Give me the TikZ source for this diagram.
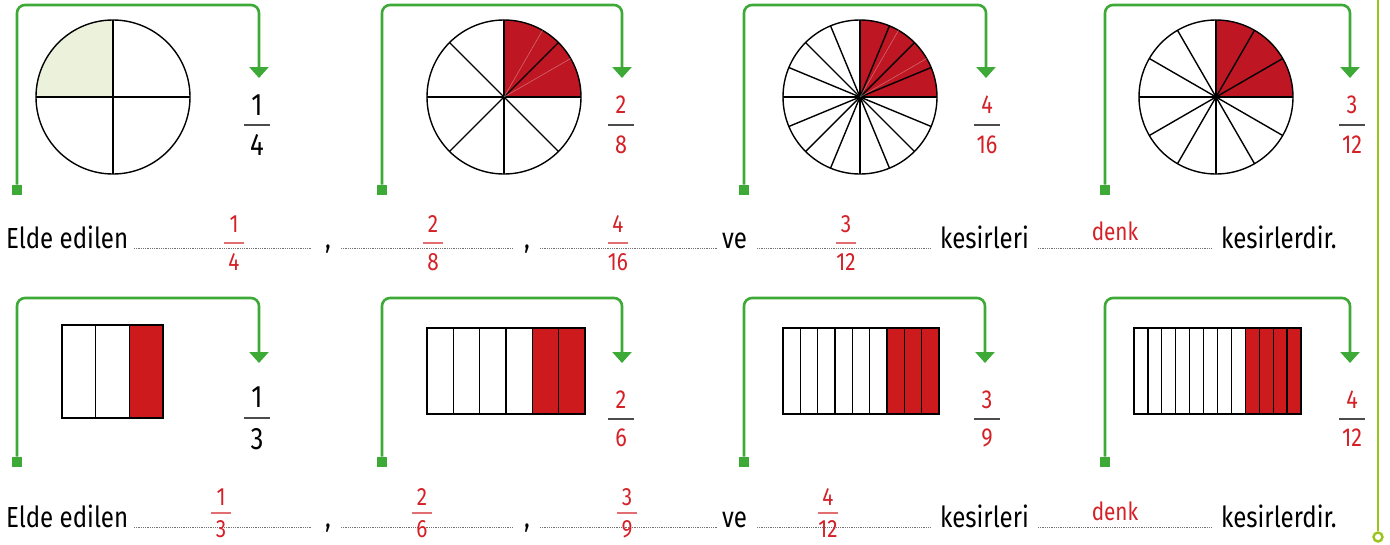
\documentclass[tikz,border=0pt]{standalone}
\usepackage{fontspec}
\setmainfont{Fira Sans}[FakeStretch=0.83]
\usetikzlibrary{arrows.meta}

\definecolor{okyesil}{HTML}{3DA936}
\definecolor{kenaryesil}{HTML}{9AC31C}
\definecolor{koyukirmizi}{HTML}{BE1622}
\definecolor{kirmizi}{HTML}{CD1A1D}
\definecolor{acikyesil}{HTML}{ECF1DB}
\definecolor{yazikirmizi}{HTML}{D42027}

% yesil ok: ad, sol x, sag x, ust y, kare y, uc y
\newcommand{\cerceve}[6]{%
  \node[kare] (#1k) at (#2,#5) {};
  \coordinate (#1u) at (#3,#6);
  \draw[okcizgi] (#1k.north) |- (#2+100,#4) -| (#1u);
}
% daire: ad, x, y, parca, baslangic, bitis, renk
\newcommand{\pasta}[7]{%
  \coordinate (#1) at (#2,#3);
  \fill[#7] (#1) -- ++(#5:77) arc[start angle=#5,end angle=#6,radius=77] -- cycle;
  \foreach \a in {1,...,#4} \draw[pastaciz] (#1) -- ++({360/#4*\a}:77);
  \draw[pastaciz] (#1) circle[radius=77];
}
% serit: ad, x1, ust y, x2, alt y, parca, kirmizi parca
\newcommand{\serit}[7]{%
  \foreach \i in {1,...,#6}{
    \pgfmathtruncatemacro\kir{\i>#6-#7}
    \ifnum\kir=1 \def\renk{kirmizi}\else\def\renk{white}\fi
    \filldraw[seritciz,fill=\renk] ({#2+(\i-1)*(#4-#2)/#6},#3) rectangle ({#2+\i*(#4-#2)/#6},#5);
  }
  \coordinate (#1) at ({(#2+#4)/2},{(#3+#5)/2});
}
% kesir: ad, x, cizgi y, pay, payda, stil, aralik, cizgi stili
\newcommand{\kesir}[8]{%
  \node[#6] (#1p) at (#2,#3+#7) {#4};
  \node[#6] (#1q) at (#2,#3-#7) {#5};
  \draw[#8] (#2-13,#3) -- (#2+13,#3);
}

\begin{document}
\begin{tikzpicture}[x=1pt,y=1pt,
    kare/.style={fill=okyesil,inner sep=0pt,minimum size=10.5pt},
    okcizgi/.style={okyesil,line width=2.6pt,rounded corners=8pt,-{Triangle[width=19pt,length=11pt]}},
    pastaciz/.style={black,line width=1.4pt},
    soluk/.style={white,opacity=0.35,line width=0.6pt},
    seritciz/.style={black,line width=1.3pt},
    siyahsayi/.style={font=\fontsize{31}{31}\selectfont,inner sep=0pt},
    kirmizisayi/.style={font=\fontsize{26}{26}\selectfont,text=yazikirmizi,inner sep=0pt},
    kesirciz/.style={black!70,line width=1.3pt},
    cevapciz/.style={yazikirmizi!65,line width=1.3pt,shorten <=3pt,shorten >=3pt},
    yazi/.style={font=\fontsize{29}{29}\selectfont,inner sep=0pt},
    cevap/.style={font=\fontsize{25}{25}\selectfont,text=yazikirmizi,inner sep=0pt},
    noktali/.style={black!55,line width=0.9pt,dash pattern=on 0.8pt off 1pt}]
\useasboundingbox (0,0) rectangle (1390,-544);
%
% ============ UST SIRA: daireler ============
\cerceve{a1}{17}{259}{-5}{-190}{-78}
\cerceve{a2}{382}{622}{-5}{-190}{-78}
\cerceve{a3}{744}{986}{-5}{-190}{-78}
\cerceve{a4}{1105}{1350}{-5}{-190}{-78}
% daire 1/4
\pasta{d1}{113}{-97}{4}{90}{180}{acikyesil}
% daire 2/8
\pasta{d2}{504}{-97}{8}{0}{90}{koyukirmizi}
\draw[soluk] (d2) -- ++(30:77) (d2) -- ++(60:77);
% daire 4/16
\pasta{d3}{860}{-97}{16}{0}{90}{koyukirmizi}
\draw[soluk] (d3) -- ++(30:77) (d3) -- ++(60:77);
% daire 3/12
\pasta{d4}{1216}{-97}{12}{0}{90}{koyukirmizi}
% kesirler
\kesir{k1}{257}{-125}{1}{4}{siyahsayi}{20}{kesirciz}
\kesir{k2}{621}{-125}{2}{8}{kirmizisayi}{20}{kesirciz}
\kesir{k3}{987}{-125}{4}{16}{kirmizisayi}{20}{kesirciz}
\kesir{k4}{1352}{-125}{3}{12}{kirmizisayi}{20}{kesirciz}
%
% ============ cumle 1 ============
\node[yazi,anchor=base west] (e1) at (6,-248) {Elde edilen};
\draw[noktali] (134,-248) -- (312,-248);
\node[yazi,anchor=base] (v11) at (328,-248) {,};
\draw[noktali] (341,-248) -- (513,-248);
\node[yazi,anchor=base] (v12) at (527,-248) {,};
\draw[noktali] (540,-248) -- (717,-248);
\node[yazi,anchor=base west] (ve1) at (722,-248) {ve};
\draw[noktali] (757,-248) -- (931,-248);
\node[yazi,anchor=base west] (ks1) at (940,-248) {kesirleri};
\draw[noktali] (1038,-248) -- (1212,-248);
\node[yazi,anchor=base west] (kd1) at (1221,-248) {kesirlerdir.};
\kesir{c11}{234}{-243}{1}{4}{cevap}{19}{cevapciz}
\kesir{c12}{433}{-243}{2}{8}{cevap}{19}{cevapciz}
\kesir{c13}{618}{-243}{4}{16}{cevap}{19}{cevapciz}
\kesir{c14}{846}{-243}{3}{12}{cevap}{19}{cevapciz}
\node[cevap,anchor=base] (dk1) at (1115,-240) {denk};
%
% ============ ALT SIRA: seritler ============
\cerceve{b1}{17}{259}{-298}{-462}{-363}
\cerceve{b2}{382}{622}{-298}{-462}{-363}
\cerceve{b3}{744}{985}{-298}{-462}{-363}
\cerceve{b4}{1105}{1350}{-298}{-462}{-363}
\serit{s1}{62}{-325}{163}{-418}{3}{1}
\serit{s2}{427}{-328}{585}{-414}{6}{2}
\serit{s3}{783}{-328}{939}{-414}{9}{3}
\serit{s4}{1134}{-328}{1301}{-414}{12}{4}
\kesir{k5}{257}{-418}{1}{3}{siyahsayi}{21}{kesirciz}
\kesir{k6}{621}{-419}{2}{6}{kirmizisayi}{19}{kesirciz}
\kesir{k7}{987}{-419}{3}{9}{kirmizisayi}{19}{kesirciz}
\kesir{k8}{1352}{-419}{4}{12}{kirmizisayi}{19}{kesirciz}
%
% ============ cumle 2 ============
\node[yazi,anchor=base west] (e2) at (6,-527) {Elde edilen};
\draw[noktali] (134,-527) -- (312,-527);
\node[yazi,anchor=base] (v21) at (328,-527) {,};
\draw[noktali] (341,-527) -- (513,-527);
\node[yazi,anchor=base] (v22) at (527,-527) {,};
\draw[noktali] (540,-527) -- (717,-527);
\node[yazi,anchor=base west] (ve2) at (722,-527) {ve};
\draw[noktali] (757,-527) -- (931,-527);
\node[yazi,anchor=base west] (ks2) at (940,-527) {kesirleri};
\draw[noktali] (1038,-527) -- (1212,-527);
\node[yazi,anchor=base west] (kd2) at (1221,-527) {kesirlerdir.};
\kesir{c21}{221}{-513}{1}{3}{cevap}{16}{cevapciz}
\kesir{c22}{422}{-513}{2}{6}{cevap}{16}{cevapciz}
\kesir{c23}{627}{-513}{3}{9}{cevap}{16}{cevapciz}
\kesir{c24}{828}{-513}{4}{12}{cevap}{16}{cevapciz}
\node[cevap,anchor=base] (dk2) at (1115,-520) {denk};
%
% sag kenar
\node[circle,draw=kenaryesil,fill=white,line width=2.4pt,inner sep=0pt,minimum size=9pt] (son) at (1378,-537) {};
\draw[kenaryesil,line width=2.6pt] (1378,0) -- (son.north);
\end{tikzpicture}
\end{document}
